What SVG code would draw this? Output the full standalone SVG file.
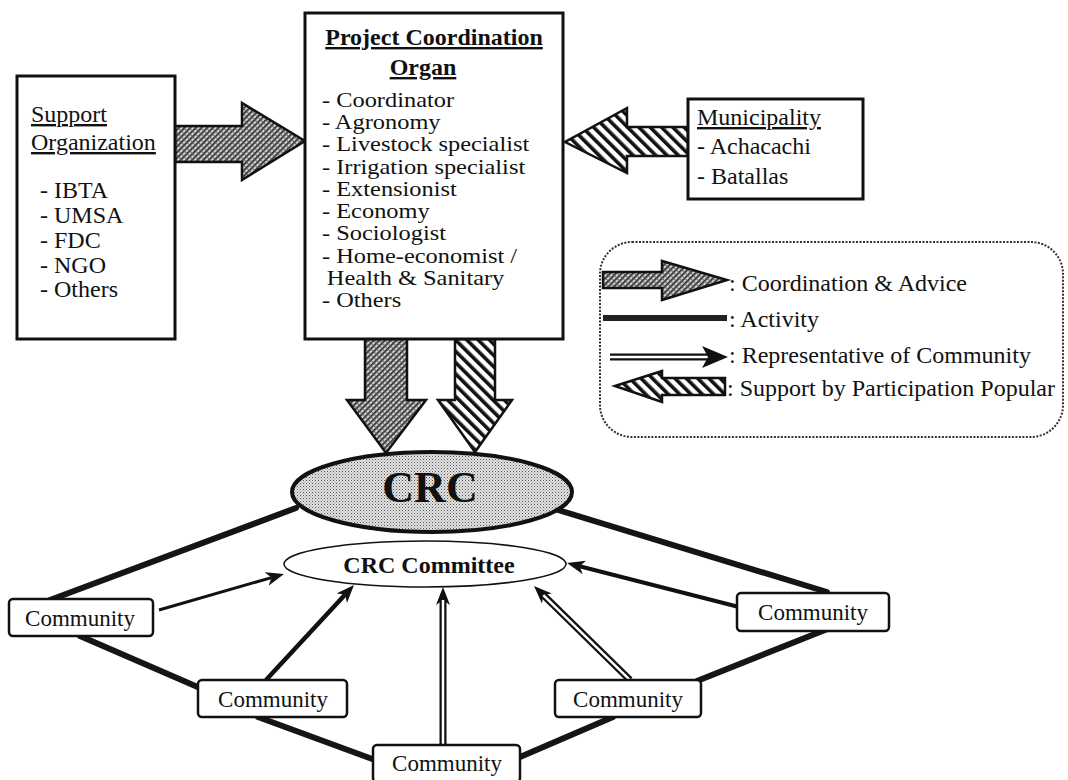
<svg xmlns="http://www.w3.org/2000/svg" width="1068" height="780" viewBox="0 0 1068 780">
<style>
text{font-family:"Liberation Serif","Times New Roman",serif;fill:#111;}
.t{font-size:24px;}
.s{font-size:20px;}
.b{font-weight:bold;}
.u{text-decoration:underline;}
.cm{font-size:23px;text-anchor:middle;}
.box{fill:#fff;stroke:#111;stroke-width:3;}
.cbox{fill:#fff;stroke:#111;stroke-width:2.5;}
.act{stroke:#151515;stroke-width:6;stroke-linecap:round;fill:none;}
.rep{stroke:#111;fill:none;marker-end:url(#mHead);}
.dbl{stroke:#111;stroke-width:7;fill:none;marker-end:url(#mHead);}
.dblin{stroke:#fff;stroke-width:2.5;fill:none;}
.coord{fill:url(#pCoord);stroke:#111;stroke-width:2.5;stroke-linejoin:miter;}
.supp{fill:url(#pStripe);stroke:#111;stroke-width:2.5;}
</style>
<defs>
<pattern id="pCoord" width="4" height="4" patternUnits="userSpaceOnUse" patternTransform="rotate(45)">
<rect width="4" height="4" fill="#d0d0d0"/>
<rect x="0" y="0" width="1.7" height="4" fill="#2a2a2a"/>
<rect x="0" y="0" width="4" height="0.8" fill="#555"/>
</pattern>
<pattern id="pStripe" width="8" height="8" patternUnits="userSpaceOnUse" patternTransform="rotate(-45)">
<rect width="8" height="8" fill="#fff"/>
<rect x="0" y="0" width="3.6" height="8" fill="#111"/>
</pattern>
<pattern id="pDots" width="3" height="3" patternUnits="userSpaceOnUse">
<rect width="3" height="3" fill="#e2e2e2"/>
<rect x="0" y="0" width="1" height="1" fill="#555"/>
<rect x="1.5" y="1.5" width="1" height="1" fill="#888"/>
</pattern>
<marker id="mHead" markerUnits="userSpaceOnUse" markerWidth="20" markerHeight="16" refX="5" refY="7" orient="auto">
<path d="M0,0 L18,7 L0,14 L5,7 z" fill="#111"/>
</marker>
</defs>

<g id="connectors">
<line class="act" x1="296" y1="508" x2="50" y2="600"/>
<line class="act" x1="80" y1="636" x2="200" y2="688"/>
<line class="act" x1="258" y1="717" x2="375" y2="760"/>
<line class="act" x1="520" y1="757" x2="613" y2="717"/>
<line class="act" x1="697" y1="681" x2="830" y2="628"/>
<line class="act" x1="558" y1="510" x2="827" y2="592"/>
<line class="rep" stroke-width="3" x1="159" y1="610" x2="271.5" y2="577.6"/>
<line class="rep" stroke-width="4.5" x1="266" y1="680" x2="345.2" y2="594.5"/>
<line class="rep" stroke-width="4" x1="739" y1="607" x2="579.6" y2="566.2"/>
<line class="dbl" x1="443" y1="745" x2="443" y2="600"/>
<line class="dblin" x1="443" y1="744" x2="443" y2="600"/>
<line class="dbl" x1="630" y1="680" x2="543.3" y2="595.1"/>
<line class="dblin" x1="629.3" y1="679.3" x2="543.3" y2="595.1"/>
<polygon class="coord" points="175,126 242,126 242,103 305,141 242,180 242,162 175,162"/>
<polygon class="supp" points="688,127 627,127 627,108 565,142 627,173 627,156 688,156"/>
<polygon class="coord" points="365,339 407,339 407,400 426,400 386,453 347,400 365,400"/>
<polygon class="supp" points="455,339 495,339 495,400 512,400 475,452 438,400 455,400"/>
</g>

<g id="support-org">
<rect class="box" x="17" y="76" width="158" height="263"/>
<text class="t u" x="31" y="122">Support</text>
<text class="t u" x="31" y="150">Organization</text>
<text class="t" x="40" y="198">- IBTA</text>
<text class="t" x="40" y="223">- UMSA</text>
<text class="t" x="40" y="248">- FDC</text>
<text class="t" x="40" y="273">- NGO</text>
<text class="t" x="40" y="297">- Others</text>
</g>

<g id="project-coordination">
<rect class="box" x="305" y="13" width="258" height="326"/>
<text class="t b u" x="434" y="45" text-anchor="middle">Project Coordination</text>
<text class="t b u" x="423" y="75" text-anchor="middle">Organ</text>
<g transform="translate(322,0) scale(1.22,1)">
<text class="s" x="0" y="107">- Coordinator</text>
<text class="s" x="0" y="129.2">- Agronomy</text>
<text class="s" x="0" y="151.4">- Livestock specialist</text>
<text class="s" x="0" y="173.7">- Irrigation specialist</text>
<text class="s" x="0" y="195.9">- Extensionist</text>
<text class="s" x="0" y="218.1">- Economy</text>
<text class="s" x="0" y="240.3">- Sociologist</text>
<text class="s" x="0" y="262.6">- Home-economist /</text>
<text class="s" x="4" y="284.8">Health &amp; Sanitary</text>
<text class="s" x="0" y="307">- Others</text>
</g>
</g>

<g id="municipality">
<rect class="box" x="688" y="99" width="175" height="100"/>
<text class="t u" x="697" y="125">Municipality</text>
<text class="t" x="697" y="154">- Achacachi</text>
<text class="t" x="697" y="184">- Batallas</text>
</g>

<g id="legend">
<rect x="600" y="242" width="463" height="195" rx="32" fill="#fff" stroke="#333" stroke-width="2" stroke-dasharray="2 1.5"/>
<polygon class="coord" points="603,272 662,272 662,261 727,280 662,300 662,288 603,288"/>
<text class="t" x="729" y="291">: Coordination &amp; Advice</text>
<rect x="603" y="315" width="124" height="6" fill="#222"/>
<text class="t" x="729" y="327">: Activity</text>
<line x1="610" y1="357" x2="710" y2="357" stroke="#111" stroke-width="7"/>
<line x1="610" y1="357" x2="710" y2="357" stroke="#fff" stroke-width="2.5"/>
<path d="M702,346 L728,357 L702,368 L708,357 z" fill="#111"/>
<text class="t" x="729" y="363">: Representative of Community</text>
<polygon class="supp" points="615,386 662,371 662,378 725,378 725,395 662,395 662,402"/>
<text class="t" x="727" y="396">: Support by Participation Popular</text>
</g>

<g id="crc">
<ellipse cx="432" cy="492" rx="140" ry="40" fill="url(#pDots)" stroke="#111" stroke-width="4"/>
<text x="430" y="502" font-size="44" font-weight="bold" text-anchor="middle">CRC</text>
</g>

<g id="crc-committee">
<ellipse cx="425" cy="564" rx="141" ry="23" fill="#fff" stroke="#111" stroke-width="1.5"/>
<text class="t b" x="429" y="573" text-anchor="middle">CRC Committee</text>
</g>

<g id="community-1">
<rect class="cbox" x="9" y="599" width="144" height="37" rx="4"/>
<text class="cm" x="80" y="626">Community</text>
</g>
<g id="community-2">
<rect class="cbox" x="198" y="680" width="149" height="37" rx="4"/>
<text class="cm" x="273" y="707">Community</text>
</g>
<g id="community-3">
<rect class="cbox" x="373" y="745" width="147" height="37" rx="4"/>
<text class="cm" x="447" y="771">Community</text>
</g>
<g id="community-4">
<rect class="cbox" x="555" y="680" width="146" height="37" rx="4"/>
<text class="cm" x="628" y="707">Community</text>
</g>
<g id="community-5">
<rect class="cbox" x="737" y="593" width="152" height="38" rx="4"/>
<text class="cm" x="813" y="620">Community</text>
</g>
</svg>
